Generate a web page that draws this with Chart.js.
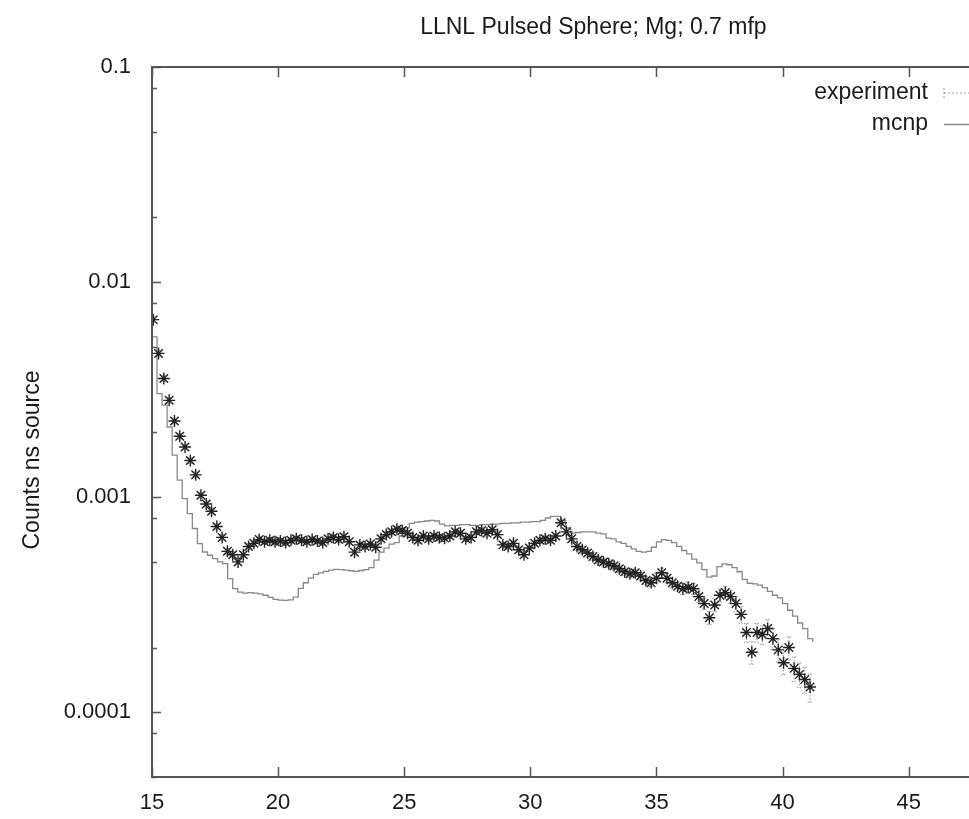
<!DOCTYPE html>
<html>
<head>
<meta charset="utf-8">
<script src="https://cdn.jsdelivr.net/npm/chart.js@4.4.1/dist/chart.umd.min.js"></script>
<style>
  html, body { margin: 0; padding: 0; background: #fff; overflow: hidden; width: 969px; height: 819px; }
  #wrap { position: absolute; left: 0; top: 0; width: 1060px; height: 819px; }
</style>
</head>
<body>
<div id="wrap"><canvas id="c" width="1060" height="819"></canvas></div>
<script>
// Labels
const chartTitle = 'LLNL Pulsed Sphere; Mg; 0.7 mfp';
const yAxisTitle = 'Counts ns source';
const seriesNames = ['experiment', 'mcnp'];

// Axis ticks
const xTickValues = [15, 20, 25, 30, 35, 40, 45, 50];
const yTickValues = [1e-4, 1e-3, 1e-2, 1e-1];
const yTickLabels = ['0.0001', '0.001', '0.01', '0.1'];
const yMinorFactors = [2, 5, 8];

// Measured time-of-flight spectrum (ns, counts / ns / source)
const expTime = [
  15.05, 15.26, 15.47, 15.68, 15.89, 16.10, 16.31, 16.52, 16.73, 16.94,
  17.15, 17.36, 17.57, 17.78, 17.99, 18.20, 18.41, 18.62, 18.83, 19.04,
  19.25, 19.46, 19.67, 19.88, 20.09, 20.30, 20.51, 20.72, 20.93, 21.14,
  21.35, 21.56, 21.77, 21.98, 22.19, 22.40, 22.61, 22.82, 23.03, 23.24,
  23.45, 23.66, 23.87, 24.08, 24.29, 24.50, 24.71, 24.92, 25.13, 25.34,
  25.55, 25.76, 25.97, 26.18, 26.39, 26.60, 26.81, 27.02, 27.23, 27.44,
  27.65, 27.86, 28.07, 28.28, 28.49, 28.70, 28.91, 29.12, 29.33, 29.54,
  29.75, 29.96, 30.17, 30.38, 30.59, 30.80, 31.01, 31.22, 31.43, 31.64,
  31.85, 32.06, 32.27, 32.48, 32.69, 32.90, 33.11, 33.32, 33.53, 33.74,
  33.95, 34.16, 34.37, 34.58, 34.79, 35.00, 35.21, 35.42, 35.63, 35.84,
  36.05, 36.26, 36.47, 36.68, 36.89, 37.10, 37.31, 37.52, 37.73, 37.94,
  38.15, 38.36, 38.57, 38.78, 38.99, 39.20, 39.41, 39.62, 39.83, 40.04,
  40.25, 40.46, 40.67, 40.88, 41.09
];
const expCounts = [
  6.69e-3, 4.66e-3, 3.56e-3, 2.82e-3, 2.26e-3, 1.92e-3, 1.71e-3, 1.48e-3, 1.27e-3, 1.02e-3,
  9.3e-4, 8.6e-4, 7.3e-4, 6.5e-4, 5.6e-4, 5.4e-4, 5.0e-4, 5.4e-4, 5.9e-4, 6.1e-4,
  6.35e-4, 6.2e-4, 6.3e-4, 6.2e-4, 6.25e-4, 6.15e-4, 6.3e-4, 6.4e-4, 6.3e-4, 6.2e-4,
  6.35e-4, 6.25e-4, 6.15e-4, 6.4e-4, 6.5e-4, 6.35e-4, 6.55e-4, 6.2e-4, 5.55e-4, 6.0e-4,
  5.9e-4, 6.05e-4, 5.85e-4, 6.4e-4, 6.7e-4, 6.9e-4, 7.1e-4, 7.0e-4, 6.8e-4, 6.5e-4,
  6.3e-4, 6.6e-4, 6.4e-4, 6.6e-4, 6.5e-4, 6.45e-4, 6.6e-4, 6.9e-4, 6.8e-4, 6.4e-4,
  6.5e-4, 6.9e-4, 7.0e-4, 6.8e-4, 7.05e-4, 6.7e-4, 6.0e-4, 5.9e-4, 6.1e-4, 5.7e-4,
  5.4e-4, 5.8e-4, 6.1e-4, 6.3e-4, 6.4e-4, 6.3e-4, 6.6e-4, 7.6e-4, 6.9e-4, 6.4e-4,
  5.9e-4, 5.7e-4, 5.5e-4, 5.3e-4, 5.1e-4, 5.0e-4, 4.9e-4, 4.8e-4, 4.65e-4, 4.5e-4,
  4.4e-4, 4.45e-4, 4.3e-4, 4.1e-4, 4.0e-4, 4.2e-4, 4.45e-4, 4.2e-4, 4.0e-4, 3.85e-4,
  3.75e-4, 3.8e-4, 3.75e-4, 3.45e-4, 3.2e-4, 2.75e-4, 3.15e-4, 3.5e-4, 3.6e-4, 3.45e-4,
  3.2e-4, 2.85e-4, 2.35e-4, 1.9e-4, 2.35e-4, 2.3e-4, 2.45e-4, 2.2e-4, 1.95e-4, 1.7e-4,
  2.0e-4, 1.6e-4, 1.5e-4, 1.42e-4, 1.31e-4
];
// Relative uncertainty of each measured point
const expRelErr = [
  0.03, 0.03, 0.03, 0.03, 0.03, 0.03, 0.03, 0.03, 0.03, 0.03,
  0.03, 0.03, 0.03, 0.03, 0.03, 0.03, 0.03, 0.03, 0.03, 0.03,
  0.03, 0.03, 0.03, 0.03, 0.03, 0.03, 0.03, 0.03, 0.03, 0.03,
  0.03, 0.03, 0.03, 0.03, 0.03, 0.03, 0.03, 0.03, 0.03, 0.03,
  0.03, 0.03, 0.03, 0.03, 0.03, 0.03, 0.03, 0.03, 0.03, 0.03,
  0.03, 0.03, 0.03, 0.03, 0.03, 0.03, 0.03, 0.03, 0.03, 0.03,
  0.03, 0.03, 0.03, 0.03, 0.03, 0.03, 0.03, 0.03, 0.03, 0.03,
  0.03, 0.03, 0.03, 0.03, 0.03, 0.03, 0.03, 0.03, 0.03, 0.03,
  0.04, 0.04, 0.04, 0.04, 0.04, 0.04, 0.04, 0.04, 0.04, 0.04,
  0.04, 0.04, 0.04, 0.04, 0.04, 0.05, 0.05, 0.05, 0.05, 0.05,
  0.06, 0.06, 0.06, 0.06, 0.06, 0.07, 0.07, 0.07, 0.07, 0.07,
  0.08, 0.09, 0.10, 0.12, 0.10, 0.10, 0.10, 0.11, 0.12, 0.12,
  0.12, 0.13, 0.13, 0.14, 0.15
];

// MCNP calculation, histogram bins (left edge in ns, counts / ns / source)
const mcnpTime = [
  15.0, 15.2, 15.4, 15.6, 15.8, 16.0, 16.2, 16.4, 16.6, 16.8,
  17.0, 17.2, 17.4, 17.6, 17.8, 18.0, 18.2, 18.4, 18.6, 18.8,
  19.0, 19.2, 19.4, 19.6, 19.8, 20.0, 20.2, 20.4, 20.6, 20.8,
  21.0, 21.2, 21.4, 21.6, 21.8, 22.0, 22.2, 22.4, 22.6, 22.8,
  23.0, 23.2, 23.4, 23.6, 23.8, 24.0, 24.2, 24.4, 24.6, 24.8,
  25.0, 25.2, 25.4, 25.6, 25.8, 26.0, 26.2, 26.4, 26.6, 26.8,
  27.2, 27.6, 28.0, 28.4, 28.8, 29.2, 29.6, 30.0, 30.4, 30.6,
  30.8, 31.2, 31.4, 31.6, 31.8, 32.0, 32.4, 32.6, 32.8, 33.0,
  33.2, 33.4, 33.6, 33.8, 34.0, 34.2, 34.4, 34.6, 34.8, 35.0,
  35.2, 35.4, 35.6, 35.8, 36.0, 36.2, 36.4, 36.6, 36.8, 37.0,
  37.2, 37.4, 37.6, 37.8, 38.0, 38.2, 38.4, 38.6, 38.8, 39.0,
  39.2, 39.4, 39.6, 39.8, 40.0, 40.2, 40.4, 40.6, 40.8, 41.0,
  41.2
];
const mcnpCounts = [
  5.56e-3, 3.03e-3, 2.68e-3, 2.12e-3, 1.57e-3, 1.20e-3, 9.85e-4, 8.39e-4, 7.15e-4, 6.08e-4,
  5.56e-4, 5.37e-4, 5.18e-4, 5.00e-4, 4.91e-4, 4.18e-4, 3.76e-4, 3.62e-4, 3.58e-4, 3.60e-4,
  3.58e-4, 3.55e-4, 3.50e-4, 3.42e-4, 3.35e-4, 3.32e-4, 3.31e-4, 3.33e-4, 3.43e-4, 3.77e-4,
  4.00e-4, 4.20e-4, 4.38e-4, 4.45e-4, 4.52e-4, 4.58e-4, 4.62e-4, 4.60e-4, 4.58e-4, 4.55e-4,
  4.52e-4, 4.56e-4, 4.60e-4, 4.70e-4, 5.10e-4, 5.55e-4, 5.80e-4, 6.05e-4, 6.15e-4, 6.60e-4,
  7.20e-4, 7.55e-4, 7.65e-4, 7.70e-4, 7.75e-4, 7.80e-4, 7.75e-4, 7.50e-4, 7.35e-4, 7.40e-4,
  7.45e-4, 7.40e-4, 7.45e-4, 7.50e-4, 7.55e-4, 7.60e-4, 7.65e-4, 7.70e-4, 7.80e-4, 8.00e-4,
  8.15e-4, 7.80e-4, 7.20e-4, 6.80e-4, 6.85e-4, 6.90e-4, 6.90e-4, 6.80e-4, 6.75e-4, 6.45e-4,
  6.40e-4, 6.20e-4, 6.10e-4, 5.90e-4, 5.75e-4, 5.60e-4, 5.55e-4, 5.60e-4, 5.85e-4, 6.20e-4,
  6.35e-4, 6.30e-4, 6.15e-4, 5.90e-4, 5.65e-4, 5.45e-4, 5.15e-4, 4.95e-4, 4.60e-4, 4.25e-4,
  4.30e-4, 4.75e-4, 4.90e-4, 4.85e-4, 4.70e-4, 4.50e-4, 4.15e-4, 3.98e-4, 3.95e-4, 3.90e-4,
  3.80e-4, 3.65e-4, 3.50e-4, 3.40e-4, 3.20e-4, 2.98e-4, 2.80e-4, 2.60e-4, 2.45e-4, 2.20e-4,
  2.12e-4
];

const FONT = '"Liberation Sans", Arial, Helvetica, sans-serif';
const TEXT = '#1a1a1a';
const FRAME = '#555';

const expPoints = expTime.map((t, i) => ({ x: t, y: expCounts[i] }));
const mcnpPoints = mcnpTime.map((t, i) => ({ x: t, y: mcnpCounts[i] }));

// Vertical dotted error bars under the measured points
const errorBars = {
  id: 'errorBars',
  beforeDatasetsDraw(chart) {
    const { ctx, scales: { x, y } } = chart;
    ctx.save();
    ctx.strokeStyle = '#9a9a9a';
    ctx.lineWidth = 1;
    ctx.setLineDash([1.5, 1.5]);
    expTime.forEach((t, i) => {
      const v = expCounts[i], e = v * expRelErr[i];
      const px = x.getPixelForValue(t);
      const top = y.getPixelForValue(v + e), bot = y.getPixelForValue(v - e);
      ctx.beginPath();
      ctx.moveTo(px, top); ctx.lineTo(px, bot);
      ctx.moveTo(px - 2.5, top); ctx.lineTo(px + 2.5, top);
      ctx.moveTo(px - 2.5, bot); ctx.lineTo(px + 2.5, bot);
      ctx.stroke();
    });
    ctx.restore();
  }
};

// Plot border with inward ticks, title, axis title and key
const frame = {
  id: 'frame',
  afterDraw(chart) {
    const { ctx, chartArea: a, scales: { x, y } } = chart;
    ctx.save();
    ctx.strokeStyle = FRAME;
    ctx.lineWidth = 2;
    ctx.setLineDash([]);
    ctx.strokeRect(a.left, a.top, a.right - a.left, a.bottom - a.top);

    ctx.lineWidth = 1.5;
    ctx.beginPath();
    xTickValues.forEach(v => {
      const px = Math.round(x.getPixelForValue(v)) + 0.5;
      ctx.moveTo(px, a.bottom); ctx.lineTo(px, a.bottom - 10);
      ctx.moveTo(px, a.top); ctx.lineTo(px, a.top + 10);
    });
    yTickValues.forEach(v => {
      const py = Math.round(y.getPixelForValue(v)) + 0.5;
      ctx.moveTo(a.left, py); ctx.lineTo(a.left + 9, py);
      ctx.moveTo(a.right, py); ctx.lineTo(a.right - 9, py);
      yMinorFactors.forEach(f => {
        const mv = v * f / 10;
        if (mv >= y.min && mv <= y.max) {
          const my = Math.round(y.getPixelForValue(mv)) + 0.5;
          ctx.moveTo(a.left, my); ctx.lineTo(a.left + 5, my);
          ctx.moveTo(a.right, my); ctx.lineTo(a.right - 5, my);
        }
      });
    });
    ctx.stroke();

    ctx.fillStyle = TEXT;
    ctx.font = '23px ' + FONT;
    ctx.textAlign = 'center';
    ctx.textBaseline = 'alphabetic';
    ctx.fillText(chartTitle, (a.left + a.right) / 2, 34);

    ctx.save();
    ctx.translate(33, 460);
    ctx.rotate(-Math.PI / 2);
    ctx.textBaseline = 'middle';
    ctx.fillText(yAxisTitle, 0, 0);
    ctx.restore();

    // key
    ctx.textAlign = 'right';
    ctx.textBaseline = 'middle';
    const keyX = 928, keyY = [93, 124];
    seriesNames.forEach((n, i) => ctx.fillText(n, keyX, keyY[i]));
    ctx.strokeStyle = '#9a9a9a';
    ctx.lineWidth = 1;
    ctx.setLineDash([2, 2]);
    ctx.beginPath();
    ctx.moveTo(944, keyY[0] - 5); ctx.lineTo(944, keyY[0] + 5);
    ctx.moveTo(944, keyY[0]); ctx.lineTo(995, keyY[0]);
    ctx.stroke();
    ctx.setLineDash([]);
    ctx.strokeStyle = '#888';
    ctx.lineWidth = 1.3;
    ctx.beginPath();
    ctx.moveTo(944, keyY[1] + 0.5); ctx.lineTo(995, keyY[1] + 0.5);
    ctx.stroke();
    ctx.restore();
  }
};

new Chart(document.getElementById('c'), {
  type: 'line',
  data: {
    datasets: [
      {
        label: seriesNames[0],
        data: expPoints,
        showLine: false,
        pointStyle: 'star',
        pointRadius: 6,
        pointBorderWidth: 1.4,
        pointBorderColor: '#222',
        pointBackgroundColor: 'rgba(0,0,0,0)'
      },
      {
        label: seriesNames[1],
        data: mcnpPoints,
        stepped: 'before',
        borderColor: '#888',
        borderWidth: 1.3,
        pointRadius: 0,
        fill: false
      }
    ]
  },
  options: {
    responsive: false,
    animation: false,
    devicePixelRatio: 1,
    layout: { padding: { top: 67, right: 21.5, left: 0, bottom: 0 } },
    plugins: { legend: { display: false }, title: { display: false }, tooltip: { enabled: false } },
    scales: {
      x: {
        type: 'linear',
        min: 15, max: 50,
        grid: { display: false, drawTicks: false },
        border: { display: false },
        afterBuildTicks: s => { s.ticks = xTickValues.map(v => ({ value: v })); },
        afterFit: s => { s.height = 42; },
        ticks: {
          padding: 13,
          color: TEXT,
          font: { family: FONT, size: 22 },
          maxRotation: 0,
          callback: v => String(v)
        }
      },
      y: {
        type: 'logarithmic',
        min: 5e-5, max: 0.1,
        grid: { display: false, drawTicks: false },
        border: { display: false },
        afterBuildTicks: s => { s.ticks = yTickValues.map(v => ({ value: v })); },
        afterFit: s => { s.width = 152; },
        ticks: {
          padding: 21,
          color: TEXT,
          font: { family: FONT, size: 22 },
          callback: v => {
            const i = yTickValues.findIndex(t => Math.abs(t - v) / t < 1e-6);
            return i >= 0 ? yTickLabels[i] : '';
          }
        }
      }
    }
  },
  plugins: [errorBars, frame]
});
</script>
</body>
</html>
